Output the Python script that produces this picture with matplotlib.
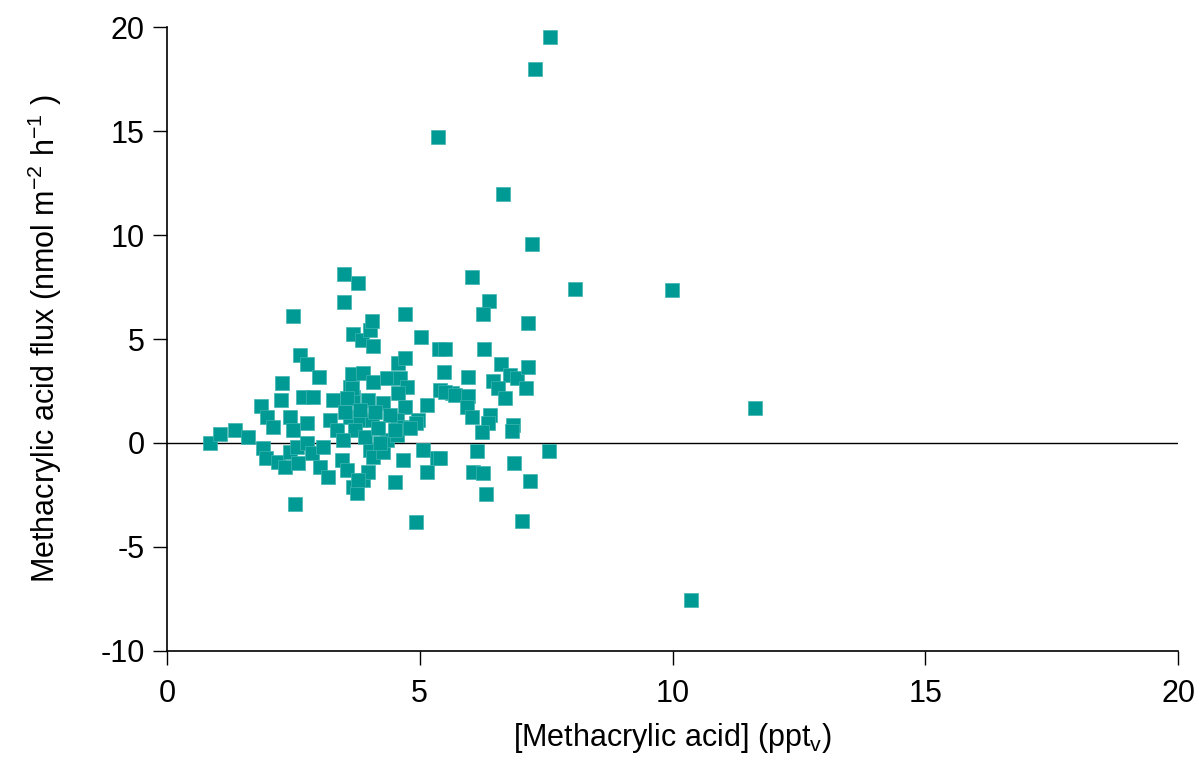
import matplotlib
matplotlib.use("Agg")
import matplotlib.pyplot as plt

plt.rcParams['font.family'] = ['Liberation Sans', 'DejaVu Sans']
plt.rcParams['mathtext.fontset'] = 'custom'
plt.rcParams['mathtext.rm'] = 'Liberation Sans'
plt.rcParams['mathtext.it'] = 'Liberation Sans'

# methacrylic acid mixing ratio (ppt_v) and flux (nmol m-2 h-1)
conc = [0.85, 1.05, 1.35, 1.60,
        1.86, 1.98, 2.10, 1.90, 1.96, 2.20, 2.33, 2.27, 2.26, 2.49, 2.53, 2.63, 2.77, 3.01,
        2.69, 2.89, 3.28, 2.43, 2.49, 2.77, 3.22, 3.36, 2.43, 2.57, 2.59, 2.77, 2.87, 3.03,
        3.18, 3.09, 3.46, 3.56, 3.68, 3.76, 3.88, 3.62, 3.68, 3.62, 3.82, 3.50, 3.78, 3.50,
        3.68, 3.86, 3.66, 3.88,
        4.02, 4.06, 4.08, 4.71, 5.02, 5.38, 5.50, 4.57, 4.71, 5.48, 5.95, 4.35, 4.61, 4.75,
        4.08, 3.66, 3.56, 4.27, 4.71, 5.14, 5.40, 5.64, 3.98, 4.57,
        4.97, 4.55, 4.67, 4.02, 4.08, 4.27, 4.06, 4.67, 5.06, 5.34, 5.14, 3.98, 3.78, 4.51,
        4.35, 4.55, 4.93,
        3.52, 3.82, 4.11, 4.41, 3.72, 3.92, 4.17, 4.51, 4.81, 3.48, 4.21,
        4.93,
        6.03, 6.37, 6.25, 7.14, 6.27, 6.61, 6.45, 6.79, 6.92, 7.14, 7.10, 6.55, 6.69, 5.50,
        5.70, 5.95, 5.93, 6.03, 6.39, 6.35, 6.23, 6.84, 6.82, 6.13, 5.40, 6.05, 6.25, 6.31,
        6.86, 7.18, 7.56, 7.02,
        5.36, 6.65, 7.22, 7.28, 7.58, 8.07, 9.99, 11.63, 10.37]
flux = [0.00, 0.43, 0.63, 0.29,
        1.78, 1.25, 0.77, -0.24, -0.72, -0.91, -1.15, 2.88, 2.07, 6.11, -2.93, 4.23, 3.80, 3.17,
        2.21, 2.21, 2.07, 1.25, 0.63, 0.96, 1.11, 0.63, -0.43, -0.19, -0.96, 0.00, -0.48, -1.15,
        -1.63, -0.19, -0.82, -1.30, -2.12, -2.40, -1.78, 2.69, 2.21, 1.25, 1.11, 8.13, 7.69, 6.78,
        5.24, 4.95, 3.32, 3.37,
        5.43, 5.87, 4.66, 6.20, 5.10, 4.52, 4.52, 3.85, 4.09, 3.41, 3.17, 3.13, 3.13, 2.69,
        2.93, 2.64, 2.16, 1.92, 1.73, 1.83, 2.55, 2.40, 2.07, 2.40,
        1.11, 1.11, 0.77, -0.34, -0.67, -0.43, 1.11, -0.82, -0.34, -0.72, -1.39, -1.39, -1.78, -1.88,
        0.14, 0.38, 0.96,
        1.49, 1.59, 1.49, 1.35, 0.63, 0.29, 0.72, 0.63, 0.72, 0.14, 0.00,
        -3.80,
        7.98, 6.83, 6.20, 5.77, 4.52, 3.80, 2.98, 3.27, 3.13, 3.65, 2.64, 2.64, 2.16, 2.45,
        2.31, 2.26, 1.73, 1.25, 1.35, 0.96, 0.53, 0.87, 0.58, -0.38, -0.72, -1.39, -1.44, -2.45,
        -0.96, -1.83, -0.38, -3.75,
        14.71, 11.97, 9.57, 17.98, 19.52, 7.40, 7.36, 1.68, -7.55]

fig = plt.figure(figsize=(12.01, 7.63), dpi=100)
ax = fig.add_axes([0.139, 0.1468, 0.842, 0.8178])

ax.axhline(0, color='black', lw=1.0, zorder=1)
ax.plot(conc, flux, 's', color='#009a95', markersize=10,
        markeredgecolor='#40b5b0', markeredgewidth=0.5, zorder=2)

ax.set_xlim(0, 20)
ax.set_ylim(-10, 20)
ax.set_xticks([0, 5, 10, 15, 20])
ax.set_yticks([-10, -5, 0, 5, 10, 15, 20])
ax.set_yticklabels(['-10', '-5', '0', '5', '10', '15', '20'])

for s in ['top', 'right']:
    ax.spines[s].set_visible(False)
for s in ['left', 'bottom']:
    ax.spines[s].set_linewidth(1.2)

ax.tick_params(axis='x', direction='out', length=10, width=1.0, pad=10, labelsize=22)
ax.tick_params(axis='y', direction='out', length=10, width=1.0, pad=6, labelsize=22)

ax.set_xlabel('[Methacrylic acid] (ppt$_\\mathregular{v}$)', fontsize=22, labelpad=9)
ax.set_ylabel('Methacrylic acid flux (nmol m$^{\\mathregular{-2}}$ h$^{\\mathregular{-1}}$ )',
              fontsize=22, labelpad=26)

fig.savefig('out.png', dpi=100)
